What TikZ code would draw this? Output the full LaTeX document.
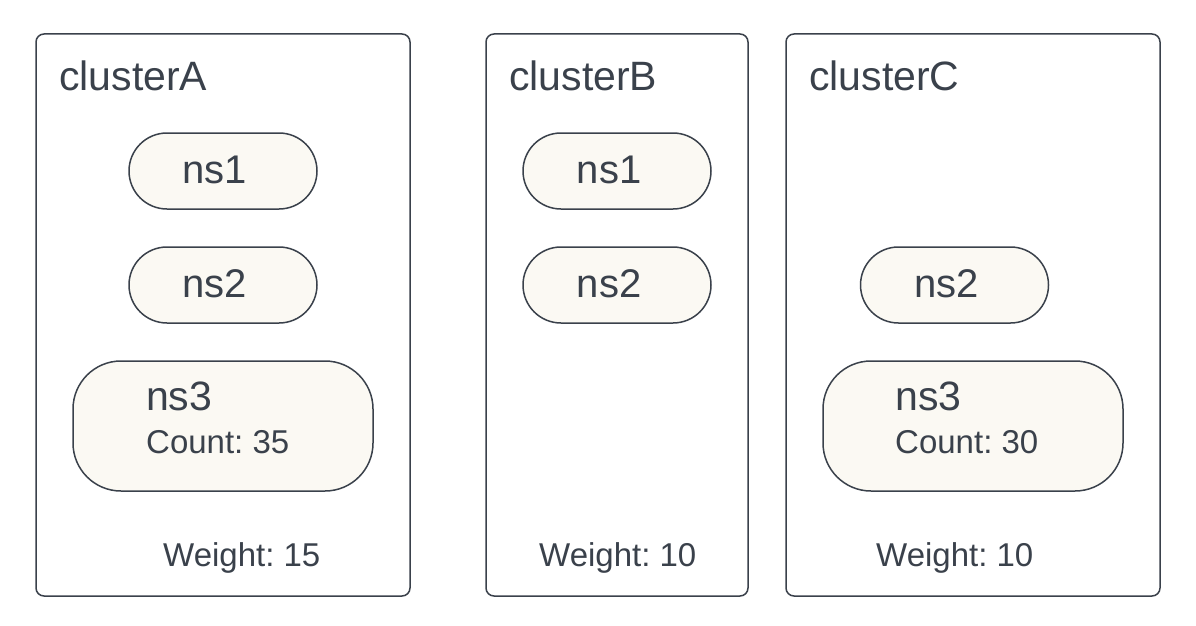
\documentclass[tikz,border=0pt]{standalone}
\usepackage{fontspec}
\setmainfont{Liberation Sans}
\frenchspacing
\definecolor{ink}{HTML}{3A414B}
\definecolor{pillfill}{HTML}{FBF9F3}
\begin{document}
\begin{tikzpicture}[x=1pt,y=-1pt,
  cluster/.style={draw=ink, line width=1.5pt, rounded corners=8pt, minimum height=562pt, inner sep=0pt},
  pillbox/.style={draw=ink, fill=pillfill, line width=1.5pt, rounded corners=38pt, minimum width=188pt, minimum height=76pt, inner sep=0pt},
  bigpill/.style={draw=ink, fill=pillfill, line width=1.5pt, rounded corners=48pt, minimum width=300pt, minimum height=130pt, inner sep=0pt},
  title/.style={anchor=base west, inner sep=0pt, text=ink, font=\fontsize{41}{41}\selectfont},
  nslabel/.style={anchor=base, inner sep=0pt, text=ink, font=\fontsize{40}{40}\selectfont},
  small/.style={anchor=base west, inner sep=0pt, text=ink, font=\fontsize{33}{33}\selectfont}
]
\useasboundingbox (0,0) rectangle (1196,626);
% clusters
\node[cluster, minimum width=374pt] (cA) at (223,315) {};
\node[cluster, minimum width=262pt] (cB) at (617,315) {};
\node[cluster, minimum width=374pt] (cC) at (973,315) {};
\node[title] (tA) at (59,90) {clusterA};
\node[title] (tB) at (509,90) {clusterB};
\node[title] (tC) at (809,90) {clusterC};
% cluster A
\node[pillbox] (a1) at (223,171) {};
\node[nslabel] (a1t) at (215,183) {ns1};
\node[pillbox] (a2) at (223,285) {};
\node[nslabel] (a2t) at (215,297) {ns2};
\node[bigpill] (a3) at (223,426) {};
\node[title] (a3t) at (146,410) {ns3};
\node[small] (a3c) at (146,453) {Count: 35};
\node[small] (wA) at (163,566) {Weight: 15};
% cluster B
\node[pillbox] (b1) at (617,171) {};
\node[nslabel] (b1t) at (609,183) {ns1};
\node[pillbox] (b2) at (617,285) {};
\node[nslabel] (b2t) at (609,297) {ns2};
\node[small] (wB) at (539,566) {Weight: 10};
% cluster C
\node[pillbox] (c2) at (954.5,285) {};
\node[nslabel] (c2t) at (946.5,297) {ns2};
\node[bigpill] (c3) at (973,426) {};
\node[title] (c3t) at (895,410) {ns3};
\node[small] (c3c) at (895,453) {Count: 30};
\node[small] (wC) at (876,566) {Weight: 10};
\end{tikzpicture}
\end{document}
